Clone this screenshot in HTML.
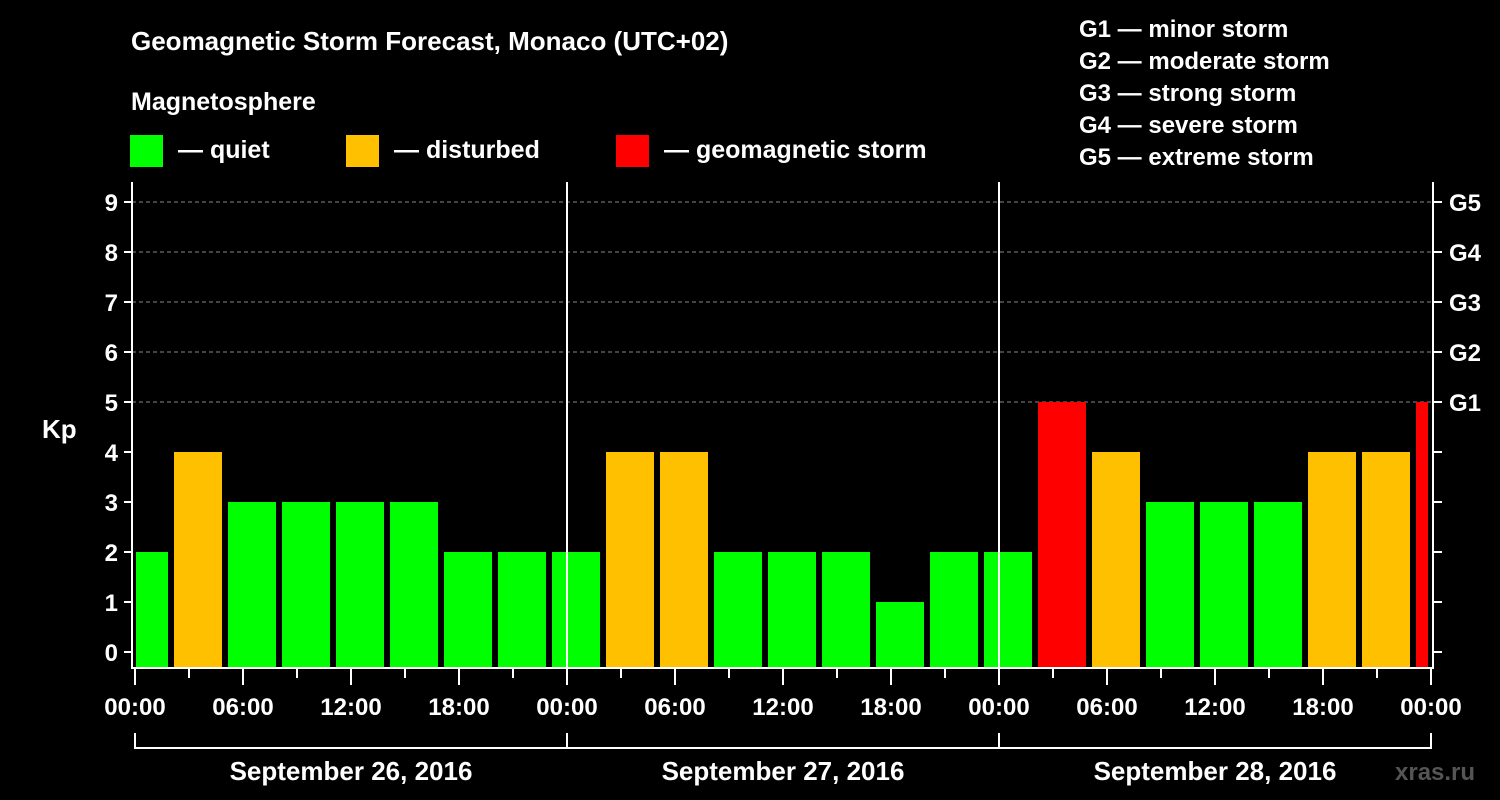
<!DOCTYPE html>
<html><head><meta charset="utf-8"><style>
html,body{margin:0;padding:0;background:#000;}
svg{display:block;font-family:"Liberation Sans",Arial,sans-serif;font-weight:bold;}
</style></head><body>
<svg id="chart" width="1500" height="800" viewBox="0 0 1500 800">
<rect width="1500" height="800" fill="#000"/>
<text x="131" y="50" fill="#fff" font-size="26">Geomagnetic Storm Forecast, Monaco (UTC+02)</text>
<text x="131" y="110" fill="#fff" font-size="25">Magnetosphere</text>
<rect x="130" y="135" width="33" height="32" fill="#00ff00"/>
<text x="178" y="158" fill="#fff" font-size="25">— quiet</text>
<rect x="346" y="135" width="33" height="32" fill="#ffc000"/>
<text x="394" y="158" fill="#fff" font-size="25">— disturbed</text>
<rect x="616" y="135" width="33" height="32" fill="#ff0000"/>
<text x="664" y="158" fill="#fff" font-size="25">— geomagnetic storm</text>
<g font-size="24" fill="#fff">
<text x="1079" y="37">G1 — minor storm</text>
<text x="1079" y="69">G2 — moderate storm</text>
<text x="1079" y="101">G3 — strong storm</text>
<text x="1079" y="133">G4 — severe storm</text>
<text x="1079" y="165">G5 — extreme storm</text>
</g>
<text x="42" y="438" fill="#fff" font-size="26">Kp</text>
<text x="1395" y="780" fill="#555" font-size="24">xras.ru</text>
<g id="plot"></g>
</svg>
<script>
const kpValues=[2,4,3,3,3,3,2,2,2,4,4,2,2,2,1,2,2,5,4,3,3,3,4,4,5];
const slotStartHours=-1;
const slotHours=3;
const dayLabels=["September 26, 2016","September 27, 2016","September 28, 2016"];
const hourTickLabels=["00:00","06:00","12:00","18:00"];
const kpTicks=[0,1,2,3,4,5,6,7,8,9];
const gLabels=["G1","G2","G3","G4","G5"];

const NS="http://www.w3.org/2000/svg";
const plot=document.getElementById('plot');
const X0=135,PXH=18,Y0=652,PXK=50,TOP=182,BOT=668,AL=132,AR=1433;
const xs=h=>X0+h*PXH, ys=k=>Y0-k*PXK;
function mk(t,a,p){const e=document.createElementNS(NS,t);for(const k in a)e.setAttribute(k,a[k]);(p||plot).appendChild(e);return e;}
// gridlines
for(let k=5;k<=9;k++){const l=mk('line',{x1:AL,x2:AR,y1:ys(k),y2:ys(k),stroke:'#888','stroke-width':1,'stroke-dasharray':'4,3'});

}
// bars
const clipX0=AL+4, clipX1=AR-5;
kpValues.forEach((v,i)=>{
  const h0=slotStartHours+i*slotHours;
  let x1=xs(h0)+3,x2=xs(h0+slotHours)-3;
  x1=Math.max(x1,clipX0);x2=Math.min(x2,clipX1);
  const col=v>=5?'#ff0000':(v>=4?'#ffc000':'#00ff00');
  const r=mk('rect',{x:x1,y:ys(v),width:x2-x1,height:BOT-1-ys(v),fill:col});
  
  
});
// day separators
for(let d=1;d<dayLabels.length;d++){const l=mk('line',{x1:xs(d*24),x2:xs(d*24),y1:TOP,y2:BOT,stroke:'#fff','stroke-width':2});

}
// axes frame
const fr=mk('path',{d:`M${AL},${TOP} V${BOT} H${AR} V${TOP}`,stroke:'#fff','stroke-width':2,fill:'none'});


// y ticks
kpTicks.forEach(k=>{
  mk('line',{x1:AL-8,x2:AL,y1:ys(k),y2:ys(k),stroke:'#fff','stroke-width':2});
  mk('line',{x1:AR,x2:AR+9,y1:ys(k),y2:ys(k),stroke:'#fff','stroke-width':2});
  const t=mk('text',{x:AL-14,y:ys(k)+9,fill:'#fff','font-size':24,'text-anchor':'end'});t.textContent=k;
  
  
});
gLabels.forEach((g,i)=>{const t=mk('text',{x:1449,y:ys(5+i)+9,fill:'#fff','font-size':24});t.textContent=g;

});
// x ticks
const totalH=dayLabels.length*24;
for(let h=0;h<=totalH;h+=3){
  const major=h%6===0;
  mk('line',{x1:xs(h),x2:xs(h),y1:BOT,y2:BOT+(major?17:10),stroke:'#fff','stroke-width':2});
  if(h%24===0||(h%6===0)){
    const t=mk('text',{x:xs(h),y:715,fill:'#fff','font-size':24,'text-anchor':'middle'});
    t.textContent=h===totalH?hourTickLabels[0]:hourTickLabels[(h%24)/6];
    
    
  }
}
// day bracket
const br=mk('path',{d:`M${xs(0)},733 V748 H${xs(totalH)} V733`+dayLabels.slice(1).map((_,d)=>` M${xs((d+1)*24)},733 V748`).join(''),stroke:'#fff','stroke-width':2,fill:'none'});


dayLabels.forEach((d,i)=>{const t=mk('text',{x:xs(i*24+12),y:780,fill:'#fff','font-size':26,'text-anchor':'middle'});t.textContent=d;

});
</script>
</body></html>
